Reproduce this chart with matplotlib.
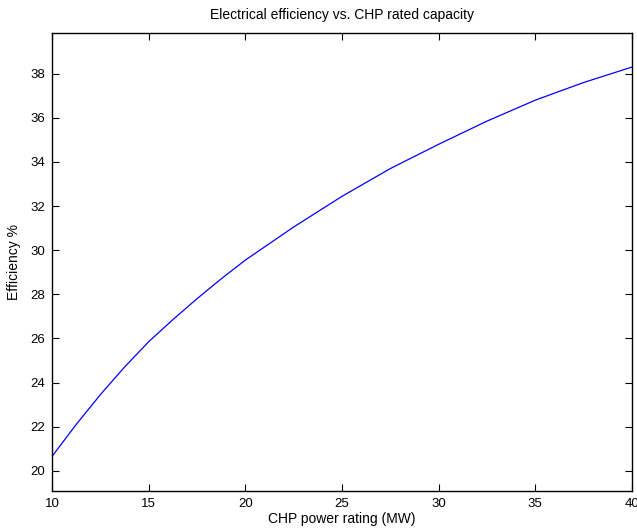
import matplotlib.pyplot as plt

rating_mw = [10, 11.25, 12.5, 13.75, 15, 16.25, 17.5, 18.75, 20, 22.5, 25, 27.5, 30, 32.5, 35, 37.5, 40]
efficiency = [20.65, 22.1, 23.45, 24.7, 25.85, 26.85, 27.8, 28.7, 29.55, 31.05, 32.44, 33.7, 34.8, 35.85, 36.8, 37.6, 38.3]

plt.rcParams['font.family'] = ['Liberation Sans', 'DejaVu Sans']

fig = plt.figure(figsize=(6.37, 5.29), dpi=100)
ax = fig.add_axes([0.0816, 0.0724, 0.9104, 0.8646])
ax.plot(rating_mw, efficiency, color='blue', linewidth=0.9)

ax.set_xlim(10, 40)
ax.set_ylim(19.1, 39.83)
ax.set_xticks(range(10, 41, 5))
ax.set_yticks(range(20, 39, 2))
ax.tick_params(direction='in', length=5, width=0.8, top=True, right=True,
               labelsize=9.5, pad=5)
for s in ax.spines.values():
    s.set_linewidth(1.0)

ax.set_title('Electrical efficiency vs. CHP rated capacity', fontsize=10, pad=10)
ax.set_xlabel('CHP power rating (MW)', fontsize=10, labelpad=2)
ax.set_ylabel('Efficiency %', fontsize=10, labelpad=7)

fig.savefig('out.png', dpi=100)
